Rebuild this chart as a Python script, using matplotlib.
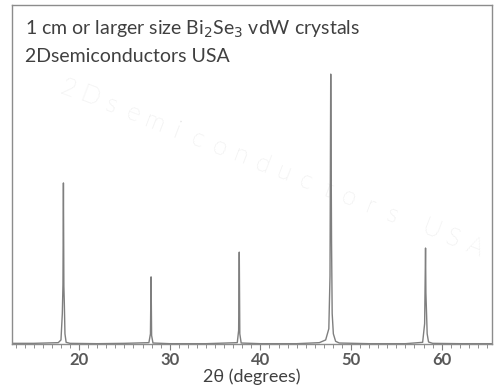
import matplotlib.pyplot as plt

plt.rcParams['font.family'] = ['Lato', 'DejaVu Sans']

# XRD scan of Bi2Se3 (2theta in degrees, intensity in a.u.)
two_theta = [12.6, 15.0, 17.7, 18.0, 18.15, 18.22, 18.27, 18.32, 18.37, 18.44, 18.57, 19.0,
             22.0, 25.0, 27.7, 27.87, 27.94, 28.0, 28.15, 30.0,
             34.0, 37.45, 37.6, 37.67, 37.73, 37.88, 40.0,
             44.0, 46.5, 47.2, 47.55, 47.68, 47.76, 47.80, 47.85, 47.92, 48.05, 48.3, 48.7,
             52.0, 56.0, 57.9, 58.12, 58.22, 58.26, 58.32, 58.4, 58.55, 59.0, 62.0, 65.6]
intensity = [2, 2, 4, 12, 90, 175, 475, 170, 120, 30, 5, 2,
             1, 2, 4, 30, 198, 25, 3, 1,
             1, 4, 40, 271, 30, 3, 1,
             1, 4, 12, 45, 200, 796, 580, 300, 90, 30, 8, 3,
             1, 1, 5, 60, 283, 150, 100, 30, 6, 2, 1, 1]

major_ticks = [20, 30, 40, 50, 60]
minor_ticks = list(range(13, 66))

fig = plt.figure(figsize=(5.01, 3.92), dpi=100)
ax = fig.add_axes([0.024, 0.1224, 0.958, 0.865])

ax.plot(two_theta, intensity, color='#7f7f7f', linewidth=1.0)

ax.set_xlim(12.6, 65.55)
ax.set_ylim(0, 1000)
ax.set_yticks([])
ax.set_xticks(major_ticks)
ax.set_xticks(minor_ticks, minor=True)
ax.tick_params(axis='x', which='major', length=4, color='#7f7f7f',
               labelsize=12, labelcolor='#595959', pad=2)
ax.tick_params(axis='x', which='minor', length=3, color='#7f7f7f')
for lbl in ax.get_xticklabels():
    lbl.set_fontweight('bold')
for s in ax.spines.values():
    s.set_color('#8c8c8c')
    s.set_linewidth(1.0)

ax.set_xlabel('2θ (degrees)', fontsize=13, color='#404040', labelpad=0)

ax.text(0.027, 0.928, '1 cm or larger size Bi$_2$Se$_3$ vdW crystals',
        transform=ax.transAxes, fontsize=14, color='#404040', va='center')
ax.text(0.027, 0.848, '2Dsemiconductors USA',
        transform=ax.transAxes, fontsize=14, color='#404040', va='center')

# watermark, one letter at a time along a slanted line
mark = list('2Dsemiconductors') + [''] + list('USA')
x0, y0 = 56.0 / 480, 1 - 84.0 / 339
step_x, step_y = 21.6 / 480, -8.4 / 339
k = 0.0
for ch in mark:
    if ch:
        ax.text(x0 + k * step_x, y0 + k * step_y, ch, transform=ax.transAxes,
                fontsize=18, color='#dcdcdc', rotation=-21, ha='center',
                va='center', fontweight='light', zorder=0)
    k += 0.8 if ch == '' else 1.0

fig.savefig('out.png', dpi=100)
